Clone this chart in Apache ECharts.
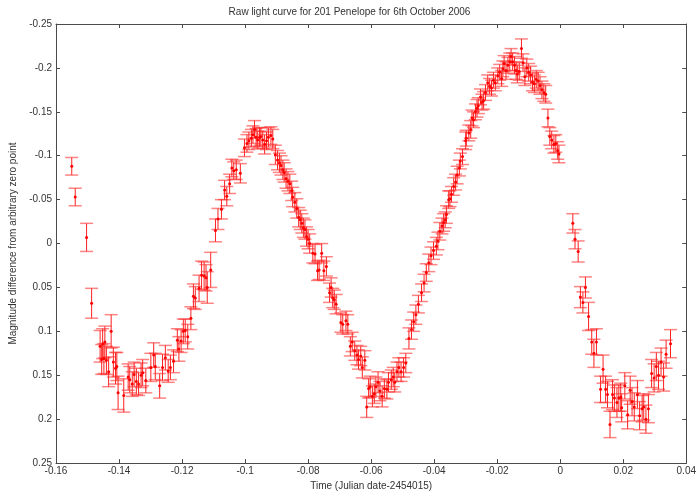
<!DOCTYPE html>
<html>
<head>
<meta charset="utf-8">
<script src="https://cdn.jsdelivr.net/npm/echarts@6/dist/echarts.min.js"></script>
<style>html,body{margin:0;padding:0;background:#fff}#c{width:699px;height:496px}</style>
</head>
<body>
<div id="c"></div>
<script>
var titleText = "Raw light curve for 201 Penelope for 6th October 2006";
var xAxisTitle = "Time (Julian date-2454015)";
var yAxisTitle = "Magnitude difference from arbitrary zero point";
var xTicks = [-0.16, -0.14, -0.12, -0.1, -0.08, -0.06, -0.04, -0.02, 0, 0.02, 0.04];
var yTicks = [-0.25, -0.2, -0.15, -0.1, -0.05, 0, 0.05, 0.1, 0.15, 0.2, 0.25];

var times = [
-0.1550,-0.1539,-0.1503,-0.1487,
-0.1460,-0.1455,-0.1452,-0.1448,-0.1445,-0.1440,-0.1433,-0.1425,-0.1418,-0.1411,-0.1407,-0.1403,-0.1385,-0.1371,-0.1366,-0.1358,
-0.1352,-0.1345,-0.1338,-0.1330,-0.1325,-0.1315,-0.1299,-0.1290,-0.1285,-0.1271,-0.1262,-0.1253,-0.1244,-0.1237,-0.1227,-0.1215,
-0.1210,-0.1203,-0.1196,-0.1190,-0.1182,-0.1172,-0.1164,-0.1158,-0.1146,-0.1138,-0.1130,-0.1124,-0.1120,-0.1109,
-0.1094,-0.1086,-0.1075,-0.1065,-0.1058,-0.1049,-0.1042,-0.1036,-0.1028,-0.1015,-0.1002,-0.0994,-0.0988,-0.0980,-0.0975,-0.0970,
-0.0965,-0.0960,-0.0954,-0.0950,-0.0944,-0.0938,-0.0932,-0.0926,-0.0918,-0.0912,
-0.0904,-0.0897,-0.0891,-0.0886,-0.0880,-0.0876,-0.0870,-0.0864,-0.0858,-0.0852,-0.0849,-0.0842,-0.0836,-0.0830,-0.0825,-0.0820,
-0.0815,-0.0810,-0.0805,-0.0800,-0.0795,-0.0785,-0.0778,-0.0770,-0.0765,-0.0757,-0.0750,-0.0742,-0.0732,-0.0727,-0.0722,-0.0717,
-0.0711,-0.0696,-0.0690,-0.0680,-0.0674,-0.0666,-0.0660,-0.0652,-0.0645,-0.0640,-0.0633,-0.0628,-0.0620,
-0.0614,-0.0608,-0.0603,-0.0596,-0.0590,-0.0585,-0.0578,-0.0572,-0.0565,-0.0558,-0.0550,-0.0545,-0.0536,-0.0530,-0.0525,-0.0518,
-0.0512,-0.0505,-0.0497,-0.0490,-0.0480,-0.0472,-0.0465,-0.0458,
-0.0450,-0.0440,-0.0432,-0.0425,-0.0417,-0.0410,-0.0402,-0.0393,-0.0388,-0.0382,-0.0375,-0.0370,-0.0365,-0.0361,-0.0354,-0.0350,
-0.0345,-0.0338,-0.0332,-0.0327,-0.0320,-0.0317,-0.0310,-0.0300,-0.0298,-0.0290,-0.0284,-0.0280,-0.0275,-0.0269,-0.0264,-0.0260,
-0.0253,-0.0248,-0.0243,-0.0237,-0.0230,-0.0224,-0.0218,-0.0212,-0.0206,-0.0198,-0.0192,-0.0186,-0.0182,-0.0178,-0.0172,-0.0166,
-0.0160,-0.0156,-0.0151,-0.0145,-0.0140,-0.0136,-0.0130,-0.0123,-0.0118,-0.0112,-0.0106,-0.0100,-0.0094,-0.0088,-0.0082,-0.0076,
-0.0070,-0.0064,-0.0058,-0.0052,-0.0046,-0.0039,-0.0033,-0.0027,-0.0020,-0.0014,-0.0008,-0.0004,
0.0040,0.0047,0.0057,0.0064,0.0072,0.0080,0.0090,0.0100,0.0107,0.0115,0.0128,0.0136,0.0144,0.0150,0.0158,0.0166,
0.0172,0.0180,0.0186,0.0192,0.0195,0.0205,0.0214,0.0222,0.0228,0.0235,0.0245,0.0252,0.0260,0.0265,0.0272,0.0280,
0.0290,0.0298,0.0305,0.0312,0.0320,0.0328,0.0336,0.0350
];

var mags = [
-0.088,-0.053,-0.007,0.068,
0.117,0.132,0.114,0.131,0.112,0.133,0.146,0.100,0.135,0.142,0.140,0.170,0.173,0.152,0.155,0.160,
0.149,0.157,0.160,0.150,0.147,0.156,0.141,0.127,0.140,0.162,0.141,0.130,0.145,0.141,0.134,0.110,
0.120,0.111,0.100,0.099,0.106,0.085,0.060,0.062,0.051,0.036,0.037,0.039,0.050,0.030,
-0.015,-0.028,-0.039,-0.061,-0.054,-0.068,-0.086,-0.083,-0.084,-0.080,-0.109,-0.114,-0.117,-0.120,-0.124,-0.130,
-0.121,-0.118,-0.121,-0.122,-0.118,-0.113,-0.117,-0.121,-0.123,-0.119,
-0.101,-0.095,-0.092,-0.089,-0.084,-0.081,-0.074,-0.071,-0.068,-0.060,-0.053,-0.047,-0.040,-0.030,-0.027,-0.023,
-0.018,-0.016,-0.008,-0.005,0.000,0.011,0.012,0.031,0.030,0.011,0.031,0.026,0.056,0.050,0.062,0.064,
0.069,0.090,0.092,0.088,0.092,0.117,0.112,0.122,0.127,0.132,0.128,0.141,0.133,
0.186,0.165,0.163,0.174,0.171,0.163,0.158,0.168,0.174,0.165,0.166,0.158,0.155,0.152,0.158,0.146,
0.141,0.146,0.141,0.136,0.108,0.098,0.089,0.081,
0.069,0.056,0.045,0.033,0.022,0.014,0.008,0.003,-0.003,-0.014,-0.020,-0.024,-0.027,-0.033,-0.050,-0.051,
-0.056,-0.065,-0.070,-0.078,-0.086,-0.094,-0.099,-0.117,-0.120,-0.126,-0.130,-0.143,-0.141,-0.150,-0.154,-0.157,
-0.167,-0.161,-0.163,-0.172,-0.183,-0.179,-0.177,-0.186,-0.183,-0.191,-0.195,-0.188,-0.199,-0.205,-0.197,-0.203,
-0.207,-0.213,-0.207,-0.203,-0.197,-0.193,-0.196,-0.222,-0.206,-0.190,-0.200,-0.195,-0.192,-0.184,-0.182,-0.187,
-0.185,-0.180,-0.175,-0.172,-0.170,-0.143,-0.122,-0.118,-0.113,-0.114,-0.106,-0.102,
-0.023,-0.005,0.009,0.061,0.067,0.050,0.083,0.112,0.125,0.112,0.166,0.143,0.166,0.172,0.206,0.172,
0.176,0.181,0.176,0.175,0.187,0.162,0.195,0.167,0.180,0.186,0.172,0.196,0.188,0.186,0.200,0.188,
0.148,0.153,0.140,0.150,0.135,0.152,0.126,0.114
];

var errs = [
0.010,0.010,0.016,0.017,
0.018,0.017,0.017,0.017,0.018,0.016,0.017,0.019,0.017,0.018,0.016,0.019,0.019,0.015,0.015,0.014,
0.014,0.015,0.013,0.014,0.015,0.014,0.016,0.014,0.015,0.014,0.015,0.014,0.013,0.014,0.013,0.013,
0.014,0.013,0.014,0.013,0.014,0.013,0.014,0.013,0.015,0.016,0.016,0.015,0.018,0.020,
0.013,0.012,0.011,0.011,0.011,0.011,0.010,0.010,0.011,0.011,0.010,0.010,0.010,0.010,0.010,0.010,
0.010,0.010,0.011,0.010,0.010,0.011,0.010,0.011,0.010,0.011,
0.011,0.011,0.011,0.011,0.011,0.011,0.011,0.011,0.011,0.011,0.011,0.011,0.011,0.011,0.011,0.011,
0.011,0.011,0.011,0.011,0.011,0.011,0.011,0.011,0.011,0.011,0.011,0.011,0.011,0.011,0.011,0.011,
0.011,0.011,0.011,0.011,0.011,0.011,0.011,0.011,0.011,0.011,0.011,0.012,0.011,
0.012,0.011,0.012,0.012,0.011,0.011,0.012,0.011,0.012,0.011,0.011,0.011,0.011,0.011,0.011,0.011,
0.011,0.011,0.011,0.011,0.012,0.011,0.011,0.011,
0.010,0.010,0.010,0.010,0.010,0.010,0.010,0.010,0.010,0.010,0.009,0.010,0.009,0.010,0.010,0.009,
0.009,0.010,0.009,0.010,0.009,0.009,0.009,0.010,0.009,0.009,0.010,0.009,0.009,0.009,0.010,0.009,
0.009,0.009,0.010,0.009,0.009,0.009,0.009,0.009,0.009,0.009,0.009,0.009,0.009,0.009,0.010,0.009,
0.010,0.009,0.010,0.010,0.010,0.010,0.010,0.011,0.010,0.010,0.010,0.010,0.010,0.010,0.010,0.010,
0.010,0.010,0.010,0.010,0.010,0.010,0.010,0.010,0.010,0.010,0.010,0.010,
0.011,0.011,0.012,0.012,0.012,0.012,0.016,0.014,0.016,0.015,0.015,0.016,0.015,0.015,0.015,0.017,
0.015,0.017,0.015,0.016,0.016,0.015,0.016,0.016,0.016,0.016,0.016,0.016,0.015,0.015,0.016,0.016,
0.016,0.016,0.016,0.016,0.016,0.016,0.016,0.016
];

var data = times.map(function (t, i) { return [t, mags[i], errs[i]]; });

function fmt(v) { return String(+v.toFixed(2)); }

var chart = echarts.init(document.getElementById('c'), null, {renderer: 'canvas'});
var axisCol = '#4a4a4a';
var labelStyle = {color: '#333', fontSize: 10, fontFamily: 'Liberation Sans, Arial, sans-serif'};

chart.setOption({
  animation: false,
  backgroundColor: '#fff',
  title: {
    text: titleText, left: 'center', top: 2,
    textStyle: {fontSize: 10, fontWeight: 'normal', color: '#333', fontFamily: 'Liberation Sans, Arial, sans-serif'}
  },
  grid: {left: 55, right: 9, top: 24, bottom: 32, containLabel: false, show: false},
  xAxis: [{
    type: 'value', min: -0.16, max: 0.04, interval: 0.02, position: 'bottom',
    name: xAxisTitle, nameLocation: 'middle', nameGap: 17,
    nameTextStyle: labelStyle,
    axisLine: {show: true, onZero: false, lineStyle: {color: axisCol, width: 1}},
    axisTick: {show: true, inside: true, length: 4, lineStyle: {color: axisCol}},
    axisLabel: Object.assign({margin: 3, formatter: function (v) { return fmt(v); }}, labelStyle),
    splitLine: {show: false}
  }, {
    type: 'value', min: -0.16, max: 0.04, interval: 0.02, position: 'top',
    axisLine: {show: true, onZero: false, lineStyle: {color: axisCol, width: 1}},
    axisTick: {show: true, inside: true, length: 4, lineStyle: {color: axisCol}},
    axisLabel: {show: false}, splitLine: {show: false}
  }],
  yAxis: [{
    type: 'value', min: -0.25, max: 0.25, interval: 0.05, inverse: true, position: 'left',
    name: yAxisTitle, nameLocation: 'middle', nameGap: 38, nameRotate: 90,
    nameTextStyle: labelStyle,
    axisLine: {show: true, onZero: false, lineStyle: {color: axisCol, width: 1}},
    axisTick: {show: true, inside: true, length: 4, lineStyle: {color: axisCol}},
    axisLabel: Object.assign({margin: 4, formatter: function (v) { return fmt(v); }}, labelStyle),
    splitLine: {show: false}
  }, {
    type: 'value', min: -0.25, max: 0.25, interval: 0.05, inverse: true, position: 'right',
    axisLine: {show: true, onZero: false, lineStyle: {color: axisCol, width: 1}},
    axisTick: {show: true, inside: true, length: 4, lineStyle: {color: axisCol}},
    axisLabel: {show: false}, splitLine: {show: false}
  }],
  series: [{
    type: 'custom',
    xAxisIndex: 0, yAxisIndex: 0,
    data: data,
    clip: true,
    renderItem: function (params, api) {
      var x = api.value(0), y = api.value(1), e = api.value(2);
      var p = api.coord([x, y]);
      var lo = api.coord([x, y - e]);
      var hi = api.coord([x, y + e]);
      var hw = 6.5;
      return {
        type: 'group',
        children: [
          {type: 'line', shape: {x1: p[0], y1: lo[1], x2: p[0], y2: hi[1]}, style: {stroke: '#ff2020', lineWidth: 1}},
          {type: 'line', shape: {x1: p[0] - hw, y1: lo[1], x2: p[0] + hw, y2: lo[1]}, style: {stroke: 'rgba(255,50,50,0.6)', lineWidth: 1.5}},
          {type: 'line', shape: {x1: p[0] - hw, y1: hi[1], x2: p[0] + hw, y2: hi[1]}, style: {stroke: 'rgba(255,50,50,0.6)', lineWidth: 1.5}}
        ]
      };
    },
    z: 2
  }, {
    type: 'scatter',
    xAxisIndex: 0, yAxisIndex: 0,
    data: data.map(function (d) { return [d[0], d[1]]; }),
    symbol: 'circle', symbolSize: 3,
    itemStyle: {color: '#ff0000', opacity: 1},
    emphasis: {disabled: true},
    z: 3
  }]
});
</script>
</body>
</html>
